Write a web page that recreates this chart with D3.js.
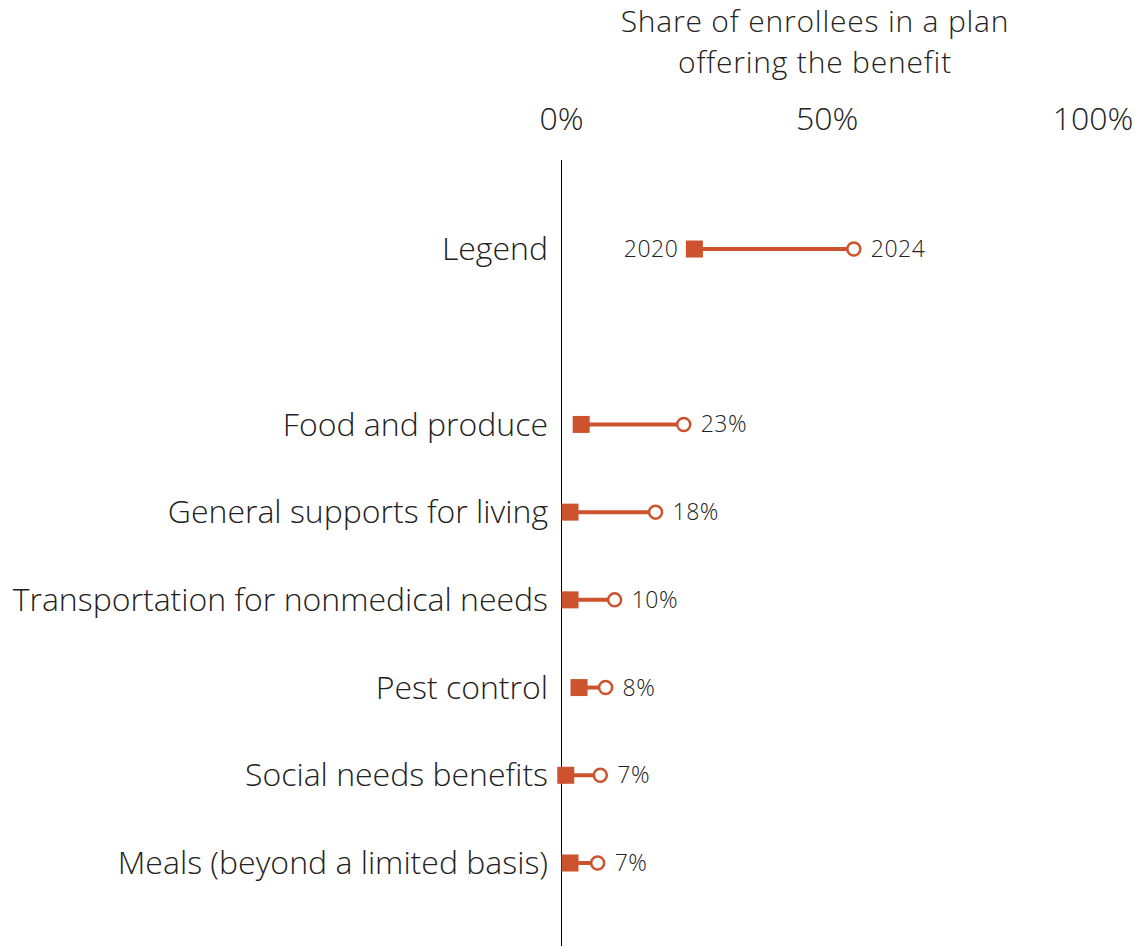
<!DOCTYPE html>
<html>
  <head>
    <style>
      body, html { margin: 0; padding: 0; background: #fff; }
      text { font-family: "Open Sans", sans-serif; font-weight: 300; fill: #222; }
    </style>
  </head>
  <body>
    <svg id="svg" width="1135" height="946"></svg>
    <script src="https://cdn.jsdelivr.net/npm/d3@7"></script>
    <script>
      const categories = ['Food and produce', 'General supports for living', 'Transportation for nonmedical needs',
        'Pest control', 'Social needs benefits', 'Meals (beyond a limited basis)'];
      const values2020 = [3.7, 1.6, 1.6, 3.3, 0.8, 1.6];
      const values2024 = [23, 17.7, 10, 8.3, 7.3, 6.8];
      const legendValues = [25, 55];
      const legendLabels = ['2020', '2024'];
      const ticks = [0, 50, 100];
      const titleLines = ['Share of enrollees in a plan', 'offering the benefit'];

      const color = '#cc532d';
      const svg = d3.select('#svg');
      const x = d3.scaleLinear().domain([0, 100]).range([561.5, 1093]);
      const rows = ['Legend', ''].concat(categories);
      const y = d3.scalePoint().domain(rows).range([249, 863]);

      // title and ticks
      svg.append('g').selectAll('text').data(titleLines).enter().append('text')
        .attr('x', 815).attr('y', (d, i) => 32 + i * 41)
        .attr('text-anchor', 'middle').attr('font-size', 30).attr('letter-spacing', 0.8)
        .text((d) => d);
      svg.append('g').selectAll('text').data(ticks).enter().append('text')
        .attr('x', (d) => x(d)).attr('y', 130)
        .attr('text-anchor', 'middle').attr('font-size', 32).text((d) => d + '%');

      svg.append('line').attr('x1', x(0)).attr('x2', x(0)).attr('y1', 160).attr('y2', 946)
        .attr('stroke', '#000').attr('stroke-width', 1);

      // row labels
      svg.append('g').selectAll('text').data(['Legend'].concat(categories)).enter().append('text')
        .attr('x', 548).attr('y', (d) => y(d)).attr('dy', '0.35em')
        .attr('text-anchor', 'end').attr('font-size', 32).text((d) => d);

      const data = categories.map((c, i) => ({ cat: c, a: values2020[i], b: values2024[i] }));
      data.unshift({ cat: 'Legend', a: legendValues[0], b: legendValues[1] });

      const g = svg.append('g');
      const row = g.selectAll('g').data(data).enter().append('g');
      row.append('line')
        .attr('x1', (d) => x(d.a)).attr('x2', (d) => x(d.b))
        .attr('y1', (d) => y(d.cat)).attr('y2', (d) => y(d.cat))
        .attr('stroke', color).attr('stroke-width', 4);
      row.append('rect')
        .attr('x', (d) => x(d.a) - 8.5).attr('y', (d) => y(d.cat) - 8.5)
        .attr('width', 17).attr('height', 17).attr('fill', color);
      row.append('circle')
        .attr('cx', (d) => x(d.b)).attr('cy', (d) => y(d.cat)).attr('r', 6.5)
        .attr('fill', '#fff').attr('stroke', color).attr('stroke-width', 2.5);

      row.filter((d) => d.cat !== 'Legend').append('text')
        .attr('x', (d) => x(d.b) + 17).attr('y', (d) => y(d.cat)).attr('dy', '0.35em')
        .attr('font-size', 23).attr('letter-spacing', 0.5).attr('fill', '#333')
        .text((d) => Math.round(d.b) + '%');

      const leg = row.filter((d) => d.cat === 'Legend');
      leg.append('text')
        .attr('x', (d) => x(d.a) - 16).attr('y', (d) => y(d.cat)).attr('dy', '0.35em')
        .attr('text-anchor', 'end').attr('font-size', 23).attr('letter-spacing', 0.5).text(legendLabels[0]);
      leg.append('text')
        .attr('x', (d) => x(d.b) + 17).attr('y', (d) => y(d.cat)).attr('dy', '0.35em')
        .attr('font-size', 23).attr('letter-spacing', 0.5).text(legendLabels[1]);
    </script>
  </body>
</html>
